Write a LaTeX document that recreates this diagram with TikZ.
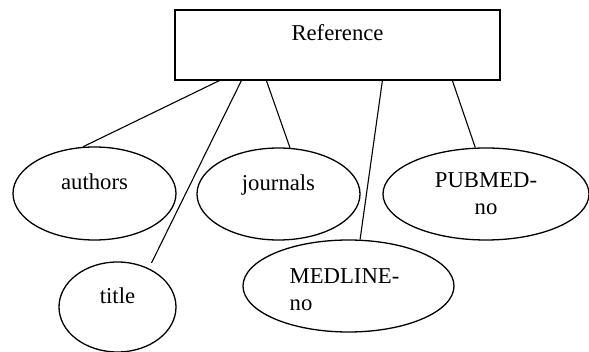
\documentclass[tikz,border=0pt]{standalone}
\usepackage{fontspec}
\setmainfont{Liberation Serif}
\usetikzlibrary{shapes.geometric}
\begin{document}
\begin{tikzpicture}[x=1pt,y=-1pt,
  every node/.style={font=\fontsize{22.7}{27}\selectfont, inner sep=0pt},
  ent/.style={draw, line width=1.2pt, minimum width=325pt, minimum height=70pt, align=center},
  attr/.style={draw, ellipse, line width=1.3pt, align=center},
  conn/.style={line width=1.1pt}]
\useasboundingbox (0,0) rectangle (589,352);
\begin{scope}
\clip (0,0) rectangle (589,352);
\node[ent] (ref) at (337.5,45) {Reference\\[-10pt]\strut};
\node[attr, minimum width=163pt, minimum height=93pt] (authors) at (94.5,193.5) {authors\\[-12pt]\strut};
\node[attr, minimum width=163pt, minimum height=92pt] (journals) at (278.5,194) {journals\\[-12pt]\strut};
\node[attr, minimum width=206pt, minimum height=92pt] (pubmed) at (486,194) {PUBMED-\\no};
\node[attr, minimum width=211pt, minimum height=92pt, align=left] (medline) at (348.5,286) {\strut\\[-24pt]\hspace*{-8pt}MEDLINE-\\\hspace*{-8pt}no};
\node[attr, minimum width=117pt, minimum height=90pt] (title) at (117.5,307) {title\\[-12pt]\strut};
\end{scope}
\draw[conn] ([xshift=45pt]ref.south west) -- (authors.104);
\draw[conn, shorten >=6pt] ([xshift=67pt]ref.south west) -- (title.51.5);
\draw[conn] ([xshift=92pt]ref.south west) -- (journals.76);
\draw[conn] ([xshift=208pt]ref.south west) -- (medline.76);
\draw[conn] ([xshift=278pt]ref.south west) -- (pubmed.103.5);
\end{tikzpicture}
\end{document}
